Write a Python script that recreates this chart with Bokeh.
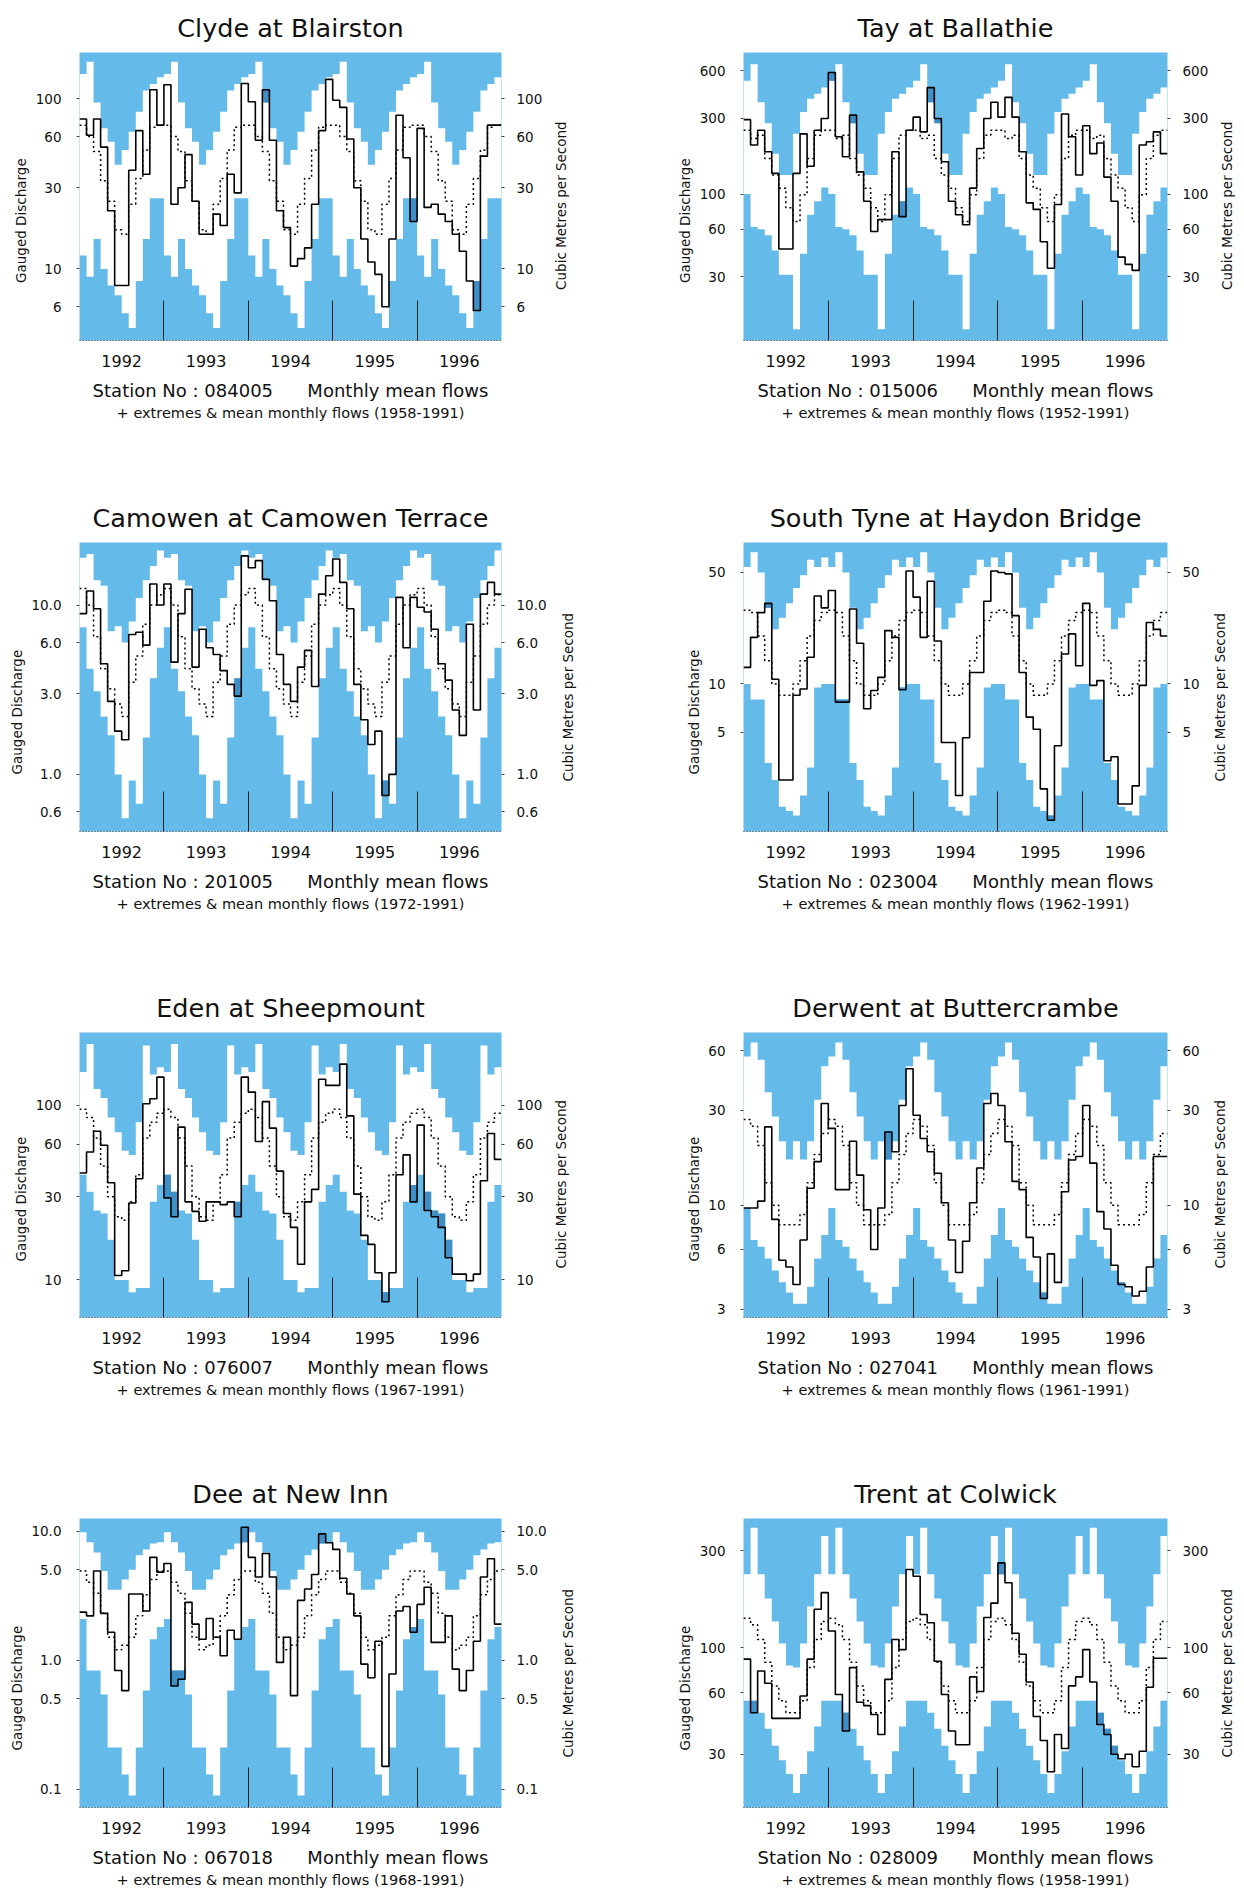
import math
import numpy as np
from bokeh.plotting import figure
from bokeh.models import Range1d, FixedTicker, LogAxis, Title, NumeralTickFormatter
from bokeh.layouts import column, row
from bokeh.embed import file_html
from bokeh.resources import INLINE

FONT = "DejaVu Sans"
BLUE = "#64BAE8"
DARK = "#3F8FC6"
INK = "#111111"
AXIS_TITLE_PX = 13.5

YEAR_LABELS = ["1992", "1993", "1994", "1995", "1996"]
YEAR_CENTRES = [6, 18, 30, 42, 54]
YEAR_BOUNDS = [12, 24, 36, 48]

# ---------------- Clyde at Blairston ----------------
clyde_max = [140, 165, 95, 67, 56, 41, 50, 64, 84, 112, 122, 134]
clyde_min = [12, 9, 15, 10, 8, 7, 5.5, 4.5, 8.5, 15, 26, 26]
clyde_mean = [70, 60, 49, 33, 25, 17, 16, 24, 34, 50, 68, 70]
clyde_flow = [76, 61, 76, 52, 22, 8, 8, 38, 65, 36, 113, 70,
              121, 24, 30, 47, 25, 16, 16, 21, 18, 36, 28, 123,
              96, 57, 113, 57, 22, 17.5, 10.4, 11.5, 13.3, 24, 65, 130,
              98, 89, 58, 30, 15, 11, 9.3, 6, 15, 80, 45, 19,
              67, 23, 24, 21, 19, 16, 12.7, 8.5, 5.7, 46, 70, 70]

# ---------------- Tay at Ballathie ----------------
tay_max = [520, 660, 380, 280, 180, 132, 132, 240, 330, 400, 430, 470]
tay_min = [100, 62, 60, 55, 44, 31, 31, 14, 42, 74, 90, 110]
tay_mean = [253, 224, 235, 168, 132, 109, 82, 67, 99, 168, 235, 253]
tay_flow = [295, 204, 253, 185, 135, 45, 45, 135, 240, 150, 253, 300,
            585, 230, 172, 315, 138, 90, 58, 69, 69, 185, 72, 253,
            306, 247, 470, 300, 160, 90, 74, 64, 109, 194, 300, 380,
            306, 408, 306, 185, 88, 80, 50, 34, 86, 320, 230, 132,
            270, 180, 210, 128, 90, 40, 36, 33, 204, 214, 247, 180]

# ---------------- Camowen at Camowen Terrace ----------------
camowen_max = [19, 20, 14, 13, 7, 7.5, 6, 8, 11, 14, 17, 21]
camowen_min = [7.4, 4.2, 3.1, 2.2, 1.7, 1.0, 0.55, 0.92, 0.67, 1.65, 3.7, 5.6]
camowen_mean = [12.5, 10, 6.5, 4.2, 3.2, 2.6, 2.2, 3.5, 5, 7.7, 10, 11.5]
camowen_flow = [8.9, 12.1, 9.5, 4.5, 2.7, 1.8, 1.6, 6.7, 6.9, 5.8, 13.3, 10,
                13.3, 4.6, 8.9, 12.4, 4.3, 7.2, 5.6, 5.1, 4.1, 3.4, 2.9, 19.5,
                16.6, 18.3, 14.2, 10.6, 5.1, 3.4, 2.7, 4.3, 5.4, 3.3, 11.6, 14.9,
                18.7, 13.6, 9.5, 3.4, 2.1, 1.5, 1.8, 0.75, 1.0, 11.1, 5.6, 11.1,
                9.7, 9.1, 7.2, 4.5, 3.6, 2.4, 1.7, 7.7, 2.4, 11.6, 13.6, 11.6]

# ---------------- South Tyne at Haydon Bridge ----------------
tyne_max = [54, 67, 50, 30, 22, 26, 32, 40, 48, 60, 54, 62]
tyne_min = [10, 8, 8, 3.2, 2.5, 1.7, 1.6, 1.5, 2.0, 3.0, 9.5, 10]
tyne_mean = [29, 28, 20, 14, 10, 8.5, 8.5, 10, 14, 20, 25, 28]
tyne_flow = [12.7, 19.6, 28, 32, 10.7, 2.5, 2.5, 8.5, 9.3, 14.7, 35.6, 30,
             38.5, 7.7, 7.7, 29.5, 18, 7.0, 9.1, 11, 21.6, 19.6, 9.2, 51,
             35, 19.6, 44, 18.6, 4.3, 4.3, 2.0, 4.6, 11.8, 11.8, 33, 51,
             50, 49, 26.8, 11.8, 6.2, 5.2, 2.2, 1.4, 4.1, 15.4, 20.6, 13,
             32, 9.8, 10.5, 3.3, 3.5, 1.77, 1.77, 2.3, 9.8, 24.3, 22, 20]

# ---------------- Eden at Sheepmount ----------------
eden_max = [155, 224, 124, 110, 85, 70, 55, 52, 80, 220, 150, 165]
eden_min = [40, 32, 25, 24, 17, 10, 10, 8.5, 9, 9, 28, 35]
eden_mean = [95, 85, 65, 45, 30, 23, 22, 28, 40, 65, 80, 90]
eden_flow = [41, 54, 71, 59, 36, 10.6, 11.3, 27.6, 38, 102, 109, 145,
             29.5, 23, 75, 28, 24.7, 21.7, 28, 28, 27, 28, 23, 145,
             119, 62, 105, 74, 42, 24, 20, 12.3, 28, 33, 141, 130,
             130, 172, 87, 31, 18, 16, 11, 7.5, 11, 40, 52, 28,
             77, 25, 23, 20, 13.4, 10.8, 10.8, 9.9, 10.8, 37, 69, 49]

# ---------------- Derwent at Buttercrambe ----------------
derwent_max = [56, 66, 54, 37, 28, 21, 17, 21, 17, 21, 34, 50]
derwent_min = [9.7, 6.7, 6.2, 5.4, 4.7, 4.1, 3.65, 3.2, 3.2, 3.9, 5.4, 7.1]
derwent_mean = [27, 25, 20, 13, 10, 8, 8, 8, 9, 13, 18, 23]
derwent_flow = [9.7, 9.7, 10.5, 24.8, 8.5, 5.3, 4.9, 4.0, 6.7, 12.2, 16.6, 32.5,
                24.4, 12, 12, 21, 14.2, 9.5, 6.0, 9.7, 23.4, 18.6, 31.8, 48.6,
                28.4, 21.7, 18.6, 14.5, 10.3, 6.7, 4.6, 6.6, 10.3, 15.4, 32.5, 36.5,
                31.8, 20.9, 13.2, 12, 6.9, 5.5, 3.4, 5.7, 4.1, 11.7, 16.9, 17.6,
                31.8, 16.3, 9.3, 7.6, 5.0, 4.0, 3.9, 3.5, 3.7, 4.9, 17.6, 17.6]

# ---------------- Dee at New Inn ----------------
dee_max = [9.8, 8.2, 6.8, 4.9, 3.5, 3.5, 4.2, 5.0, 6.5, 7.2, 8.0, 8.2]
dee_min = [2.08, 0.83, 0.83, 0.54, 0.21, 0.21, 0.13, 0.089, 0.21, 0.58, 1.45, 1.8]
dee_mean = [4.9, 4.0, 3.3, 2.3, 1.5, 1.2, 1.3, 1.5, 2.2, 3.2, 4.2, 4.9]
dee_flow = [2.35, 2.2, 4.9, 2.3, 1.64, 0.83, 0.58, 3.25, 3.25, 2.4, 6.25, 4.8,
            5.6, 0.63, 0.71, 2.8, 1.9, 1.45, 2.1, 1.5, 1.08, 1.7, 1.45, 10.7,
            6.25, 4.4, 6.7, 4.4, 0.96, 1.5, 0.53, 2.9, 3.55, 4.6, 9.5, 8.1,
            7.2, 4.3, 3.25, 2.2, 0.93, 0.73, 1.4, 0.15, 0.78, 2.4, 2.6, 1.64,
            2.7, 3.67, 1.37, 1.37, 2.2, 0.85, 0.58, 0.83, 1.4, 4.4, 6.1, 1.9]

# ---------------- Trent at Colwick ----------------
trent_max = [230, 390, 230, 175, 135, 105, 82, 80, 105, 160, 230, 355]
trent_min = [55, 55, 48, 40, 33, 28, 24, 19.3, 24, 31, 41, 55]
trent_mean = [140, 130, 110, 85, 65, 55, 48, 48, 55, 80, 110, 135]
trent_flow = [88, 48, 77, 67, 45, 45, 45, 45, 58, 88, 155, 187,
              121, 59, 39, 80, 54, 52, 47, 37.5, 70, 110, 98, 243,
              225, 146, 133, 86, 59, 39, 33.4, 33.4, 72, 61, 141, 166,
              262, 209, 118, 93, 68, 46, 35, 24.6, 37.5, 32, 65, 72,
              98, 68, 42, 37.5, 30, 28.5, 30, 26, 31, 64, 89, 89]

stations = [
    dict(name="Clyde at Blairston", no="084005", period="1958-1991",
         mx=clyde_max, mn=clyde_min, mean=clyde_mean, flow=clyde_flow,
         yr=(3.8, 187), ticks=[6, 10, 30, 60, 100], fmt="0"),
    dict(name="Tay at Ballathie", no="015006", period="1952-1991",
         mx=tay_max, mn=tay_min, mean=tay_mean, flow=tay_flow,
         yr=(11.9, 783), ticks=[30, 60, 100, 300, 600], fmt="0"),
    dict(name="Camowen at Camowen Terrace", no="201005", period="1972-1991",
         mx=camowen_max, mn=camowen_min, mean=camowen_mean, flow=camowen_flow,
         yr=(0.46, 23.4), ticks=[0.6, 1, 3, 6, 10], fmt="0.0"),
    dict(name="South Tyne at Haydon Bridge", no="023004", period="1962-1991",
         mx=tyne_max, mn=tyne_min, mean=tyne_mean, flow=tyne_flow,
         yr=(1.19, 77), ticks=[5, 10, 50], fmt="0"),
    dict(name="Eden at Sheepmount", no="076007", period="1967-1991",
         mx=eden_max, mn=eden_min, mean=eden_mean, flow=eden_flow,
         yr=(6.1, 261), ticks=[10, 30, 60, 100], fmt="0"),
    dict(name="Derwent at Buttercrambe", no="027041", period="1961-1991",
         mx=derwent_max, mn=derwent_min, mean=derwent_mean, flow=derwent_flow,
         yr=(2.73, 74), ticks=[3, 6, 10, 30, 60], fmt="0"),
    dict(name="Dee at New Inn", no="067018", period="1968-1991",
         mx=dee_max, mn=dee_min, mean=dee_mean, flow=dee_flow,
         yr=(0.072, 12.5), ticks=[0.1, 0.5, 1, 5, 10], fmt="0.0"),
    dict(name="Trent at Colwick", no="028009", period="1958-1991",
         mx=trent_max, mn=trent_min, mean=trent_mean, flow=trent_flow,
         yr=(16.4, 433), ticks=[30, 60, 100, 300], fmt="0"),
]

PANEL_W = 622
ROW_TOP = [50, 52, 50, 53]
ROW_FRAME = [290, 289, 287, 289]
ROW_H = [490, 490, 485, 425]
COL_LEFT = [79, 121]
COL_FRAME = [422, 424]

LEFT_TITLE = "Gauged Discharge"
RIGHT_TITLE = "Cubic Metres per Second"
LEFT_TITLE_EM = 9.25     # approximate advance of the text, in em
RIGHT_TITLE_EM = 12.5


def tick_text(v, fmt):
    return ("%.1f" % v) if fmt == "0.0" else ("%d" % round(v))


def style_yaxis(ax, st, side):
    ax.ticker = FixedTicker(ticks=st["ticks"], minor_ticks=[])
    ax.formatter = NumeralTickFormatter(format=st["fmt"])
    ax.axis_line_color = None
    ax.major_tick_in = 0
    ax.major_tick_out = 3
    ax.major_tick_line_color = "#444444"
    ax.minor_tick_line_color = None
    ax.major_label_standoff = 15 if side == "left" else 12
    ax.major_label_text_font = FONT
    ax.major_label_text_font_size = "13.5px"
    ax.major_label_text_color = INK


def side_title(text, offset, standoff):
    # starts 'offset' px above the frame bottom and reads bottom-to-top
    return Title(text=text, align="left", offset=offset, standoff=standoff,
                 text_font=FONT, text_font_size="%gpx" % AXIS_TITLE_PX,
                 text_font_style="normal", text_color=INK)


def make_panel(st, col, r):
    lb = COL_LEFT[col]
    fw = COL_FRAME[col]
    tb = ROW_TOP[r]
    fh = ROW_FRAME[r]
    H = ROW_H[r]
    bb = H - tb - fh
    lo, hi_y = st["yr"]
    nch = max(len(tick_text(v, st["fmt"])) for v in st["ticks"])
    d = 36 + 7 * nch                # axis-title distance from frame
    rbm = d - 8                     # right border of the main plot
    wmain = lb + fw + rbm
    wr = PANEL_W - wmain

    p = figure(width=wmain, height=H, x_range=Range1d(0, 60),
               y_range=Range1d(lo, hi_y), y_axis_type="log",
               output_backend="svg", toolbar_location=None,
               min_border_left=lb, min_border_right=rbm,
               min_border_top=tb, min_border_bottom=bb)
    p.background_fill_color = BLUE
    p.border_fill_color = "white"
    p.outline_line_color = None
    p.xgrid.visible = False
    p.ygrid.visible = False

    months = np.arange(60)
    mx = np.tile(np.array(st["mx"], dtype=float), 5)
    mn = np.tile(np.array(st["mn"], dtype=float), 5)
    mean = np.tile(np.array(st["mean"], dtype=float), 5)
    flow = np.array(st["flow"], dtype=float)

    # white band of historical extremes, one step polygon (no seams)
    ex = np.repeat(np.arange(61), 2)[1:-1]
    upper = np.repeat(mx, 2)
    lower = np.repeat(mn, 2)
    p.patch(np.concatenate([ex, ex[::-1]]), np.concatenate([upper, lower[::-1]]),
            fill_color="white", line_color=None)

    # records exceeded
    hi = flow > mx
    lo_m = flow < mn
    if hi.any():
        p.quad(left=months[hi], right=months[hi] + 1, bottom=mx[hi], top=flow[hi],
               fill_color=DARK, line_color=None)
    if lo_m.any():
        p.quad(left=months[lo_m], right=months[lo_m] + 1, bottom=flow[lo_m], top=mn[lo_m],
               fill_color=DARK, line_color=None)

    xs = np.arange(61)
    p.step(xs, np.append(mean, mean[-1]), mode="after", line_color="black",
           line_width=1.5, line_dash="2 3")
    p.step(xs, np.append(flow, flow[-1]), mode="after", line_color="black",
           line_width=1.6)

    xa = p.xaxis[0]
    xa.ticker = FixedTicker(ticks=YEAR_CENTRES, minor_ticks=YEAR_BOUNDS)
    xa.major_label_overrides = {c: l for c, l in zip(YEAR_CENTRES, YEAR_LABELS)}
    xa.major_tick_line_color = None
    xa.major_tick_in = 0
    xa.major_tick_out = 0
    xa.minor_tick_in = 40
    xa.minor_tick_out = 0
    xa.minor_tick_line_color = "#222222"
    xa.minor_tick_line_width = 1
    xa.axis_line_color = "#333333"
    xa.axis_line_dash = "1 2"
    xa.major_label_standoff = 14
    xa.major_label_text_font = FONT
    xa.major_label_text_font_size = "16px"
    xa.major_label_text_color = INK

    style_yaxis(p.yaxis[0], st, "left")
    ra = LogAxis()
    style_yaxis(ra, st, "right")
    p.add_layout(ra, "right")

    # left axis title: centred 25 px below the frame centre
    left_len = LEFT_TITLE_EM * AXIS_TITLE_PX
    p.add_layout(side_title(LEFT_TITLE, fh / 2.0 - 25 - left_len / 2.0, 7), "left")

    p.title = Title(text=st["name"], align="center", text_font=FONT,
                    text_font_size="25.5px", text_font_style="normal",
                    text_color=INK, standoff=20)
    p.add_layout(Title(text="Station No : " + st["no"] + "\u00a0" * 6 + "Monthly mean flows",
                       align="center", text_font=FONT, text_font_size="18px",
                       text_font_style="normal", text_color=INK, standoff=17), "below")
    p.add_layout(Title(text="+ extremes & mean monthly flows (" + st["period"] + ")",
                       align="center", text_font=FONT, text_font_size="14.5px",
                       text_font_style="normal", text_color=INK, standoff=-14), "below")

    # right-hand axis title: a narrow strip whose left-side title reads bottom-to-top
    s = figure(width=wr, height=H, x_range=Range1d(0, 1), y_range=Range1d(0, 1),
               min_border_left=0, min_border_right=0,
               min_border_top=tb, min_border_bottom=bb,
               toolbar_location=None, output_backend="svg",
               x_axis_location=None, y_axis_location=None)
    s.outline_line_color = None
    s.background_fill_color = "white"
    s.border_fill_color = "white"
    s.xgrid.visible = False
    s.ygrid.visible = False
    right_len = RIGHT_TITLE_EM * AXIS_TITLE_PX
    s.add_layout(side_title(RIGHT_TITLE, fh / 2.0 - 10 - right_len / 2.0, 0), "left")
    return row(p, s)


rows = []
for r in range(4):
    left = make_panel(stations[2 * r], 0, r)
    right = make_panel(stations[2 * r + 1], 1, r)
    rows.append(row(left, right))

layout = column(*rows)
open("out.html", "w").write(file_html(layout, INLINE))
